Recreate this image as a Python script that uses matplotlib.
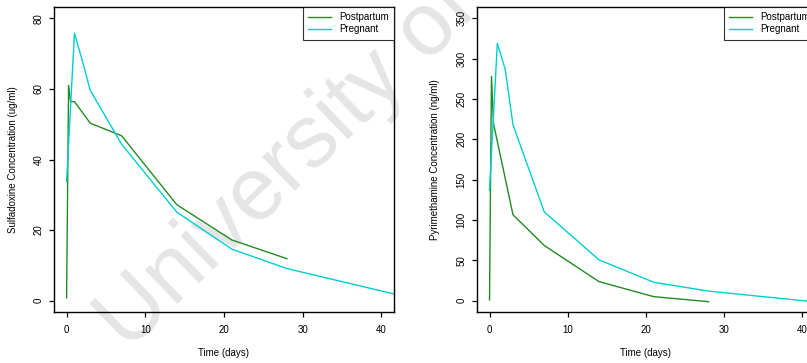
import matplotlib
matplotlib.use("Agg")
import matplotlib.pyplot as plt

plt.rcParams["font.family"] = ["Liberation Sans", "DejaVu Sans"]

# Sulfadoxine concentration (ug/ml) over time (days)
sdx_post_t = [0, 0.25, 0.5, 1, 3, 7, 14, 21, 28]
sdx_post_c = [0.8, 61.0, 56.4, 56.4, 50.3, 46.7, 27.2, 17.2, 11.9]
sdx_preg_t = [0, 1, 2, 3, 7, 14, 21, 28, 42]
sdx_preg_c = [33.8, 75.8, 68.0, 59.6, 44.3, 25.1, 14.6, 9.1, 1.7]

# Pyrimethamine concentration (ng/ml) over time (days)
pyr_post_t = [0, 0.25, 0.5, 3, 7, 14, 21, 28]
pyr_post_c = [1.0, 278.0, 220.0, 106.5, 68.4, 23.6, 5.0, -1.2]
pyr_preg_t = [0, 1, 2, 3, 7, 14, 21, 28, 42]
pyr_preg_c = [137.0, 319.0, 287.0, 218.0, 110.0, 50.6, 22.8, 11.9, -1.9]

x_ticks = [0, 10, 20, 30, 40]
sdx_ticks = [0, 20, 40, 60, 80]
pyr_ticks = [0, 50, 100, 150, 200, 250, 300, 350]

green = "#228B22"
cyan = "#00CED1"
fs = 7

W, H = 807, 363
fig = plt.figure(figsize=(W / 100, H / 100), dpi=100)

def frac(x0, y0, x1, y1):
    return [x0 / W, 1 - y1 / H, (x1 - x0) / W, (y1 - y0) / H]

ax1 = fig.add_axes(frac(54, 7, 394, 312))
ax2 = fig.add_axes(frac(477, 7, 815, 312))

panels = [
    (ax1, sdx_post_t, sdx_post_c, sdx_preg_t, sdx_preg_c, sdx_ticks, (0, 80),
     "Sulfadoxine Concentration (ug/ml)", -0.12),
    (ax2, pyr_post_t, pyr_post_c, pyr_preg_t, pyr_preg_c, pyr_ticks, (0, 350),
     "Pyrimethamine Concentration (ng/ml)", -0.124),
]

for ax, pt, pc, gt, gc, yt, ylim, ylab, ylx in panels:
    ax.set_facecolor("none")
    ax.plot(pt, pc, color=green, lw=1.0, label="Postpartum")
    ax.plot(gt, gc, color=cyan, lw=1.0, label="Pregnant")
    span = ylim[1] - ylim[0]
    ax.set_xlim(-1.6, 41.6)
    ax.set_ylim(ylim[0] - 0.04 * span, ylim[1] + 0.04 * span)
    ax.set_xticks(x_ticks)
    ax.set_yticks(yt)
    ax.tick_params(axis="both", direction="out", length=3.6, width=0.9,
                   labelsize=fs, pad=4)
    ax.tick_params(axis="x", pad=6)
    for lbl in ax.get_yticklabels():
        lbl.set_rotation(90)
        lbl.set_va("center")
    for s in ax.spines.values():
        s.set_linewidth(1.0)
    ax.set_xlabel("Time (days)", fontsize=fs)
    ax.xaxis.set_label_coords(0.5, -0.134)
    ax.xaxis.label.set_va("center")
    ax.set_ylabel(ylab, fontsize=fs)
    ax.yaxis.set_label_coords(ylx, 0.5)
    ax.yaxis.label.set_va("center")
    leg = ax.legend(loc="upper right", bbox_to_anchor=(1, 1), borderaxespad=0,
                    fontsize=fs, frameon=True, fancybox=False, handlelength=2.34,
                    handletextpad=0.82, borderpad=0.55, labelspacing=0.2)
    leg.get_frame().set_edgecolor("black")
    leg.get_frame().set_linewidth(0.8)

fig.text(128 / W, 1 - 352 / H, "University of Cape Town", fontsize=64,
         color="#e5e5e5", rotation=44, rotation_mode="anchor",
         ha="left", va="baseline", zorder=-5)

fig.savefig("out.png", dpi=100)
